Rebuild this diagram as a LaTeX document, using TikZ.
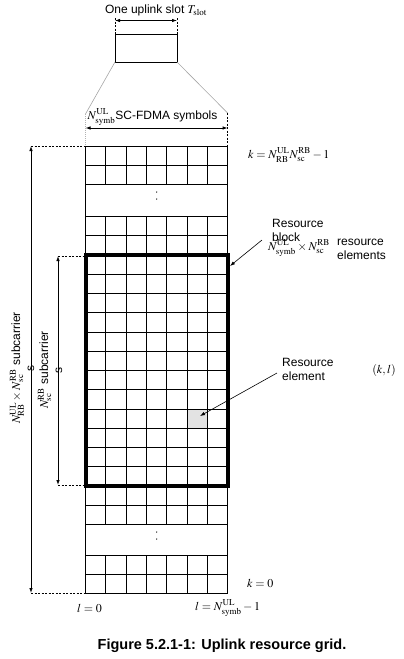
\documentclass[tikz,border=0pt]{standalone}
\usepackage{mathptmx}
\usepackage[no-math]{fontspec}
\setmainfont{Liberation Sans}
\usetikzlibrary{arrows.meta}
\begin{document}
\begin{tikzpicture}[x=1pt,y=-1pt,
  font=\fontsize{12}{14}\selectfont,
  gridline/.style={line width=0.8pt},
  thickbox/.style={line width=4pt},
  guide/.style={dash pattern=on 2pt off 1.5pt, line width=0.8pt},
  zoomline/.style={gray!70, line width=0.6pt},
  tip/.style={-{Latex[length=5pt,width=3.5pt]}, line width=0.8pt},
  dtip/.style={{Latex[length=5pt,width=3.5pt]}-{Latex[length=5pt,width=3.5pt]}, line width=0.8pt},
  lbl/.style={inner sep=0pt, anchor=west},
  rlbl/.style={inner sep=0pt, align=center, rotate=90}]
\useasboundingbox (0,0) rectangle (404,659);
\def\xa{85.5}
\def\w{20.3}
\def\xb{227.6}
% shaded resource element
\fill[gray!22] (\xa+5*\w,{255+8*19.25}) rectangle (\xa+6*\w,{255+9*19.25});
% grid sections
\foreach \ya/\yb/\n in {146/184.6/2, 216/255/2, 255/486/12, 486/524/2, 555/593/2} {
  \foreach \i in {0,...,\n}
    \draw[gridline] (\xa,{\ya+(\yb-\ya)*\i/\n}) -- (\xb,{\ya+(\yb-\ya)*\i/\n});
  \foreach \j in {0,...,7}
    \draw[gridline] ({\xa+\j*\w},\ya) -- ({\xa+\j*\w},\yb);
}
\draw[gridline] (\xa,146) rectangle (\xb,593);
% dots in gaps
\foreach \yy in {192,199,532,539} \fill (156.7,\yy) circle (0.7pt);
% resource block
\draw[thickbox] (\xa,255) rectangle (\xb,486);
% slot box
\coordinate (s1) at (115,34);
\coordinate (s2) at (177,62);
\draw[gridline] (s1) rectangle (s2);
\coordinate (sa) at (115,20.5);
\coordinate (sb) at (177,20.5);
\draw[guide] (115,18) -- (115,34);
\draw[guide] (177,18) -- (177,34);
\draw[dtip] (sa) -- (sb);
\node[inner sep=0pt] (title) at (156,10) {One uplink slot $T_{\mathrm{slot}}$};
% zoom lines
\coordinate (zl) at (\xa,114);
\coordinate (zr) at (\xb,113);
\draw[zoomline] (115,62) -- (zl);
\draw[zoomline] (177,62) -- (zr);
\draw[gray!60, dash pattern=on 1pt off 1pt, line width=0.8pt] (zl) -- (\xa,146);
\draw[guide] (zr) -- (\xb,146);
\coordinate (ya) at (\xa,128);
\coordinate (yb) at (\xb,128);
\draw[dtip] (ya) -- (yb);
\node[inner sep=0pt] (symb) at (152.5,117) {$N^{\mathrm{UL}}_{\mathrm{symb}}$SC-FDMA symbols};
% left outer arrow
\coordinate (o1) at (31,146);
\coordinate (o2) at (31,593);
\draw[guide] (o1) -- (\xa,146);
\draw[guide] (o2) -- (\xa,593);
\draw[dtip] (o1) -- (o2);
% inner arrow
\coordinate (i1) at (58,256);
\coordinate (i2) at (58,485);
\draw[guide] (i1) -- (83,256);
\draw[guide] (i2) -- (83,485);
\draw[dtip] (i1) -- (i2);
% rotated labels
\node[rlbl] (outerlbl) at (22,368) {$N^{\mathrm{UL}}_{\mathrm{RB}}\times N^{\mathrm{RB}}_{\mathrm{sc}}$ subcarrier\\s};
\node[rlbl] (innerlbl) at (50,370) {$N^{\mathrm{RB}}_{\mathrm{sc}}$ subcarrier\\s};
% right labels
\node[lbl] (ktop) at (248,155) {$k=N^{\mathrm{UL}}_{\mathrm{RB}}N^{\mathrm{RB}}_{\mathrm{sc}}-1$};
\node[lbl, align=left] (rb) at (272,230) {Resource\\block};
\node[lbl] (rbsize) at (268,248) {$N^{\mathrm{UL}}_{\mathrm{symb}}\times N^{\mathrm{RB}}_{\mathrm{sc}}$};
\node[lbl, align=left] (rbel) at (337,249) {resource\\elements};
\coordinate (rbfrom) at (262,240);
\coordinate (rbto) at (230,266);
\draw[tip, line width=0.6pt] (rbfrom) -- (rbto);
\node[lbl, align=left] (re) at (282,369) {Resource\\element};
\coordinate (refrom) at (277,373);
\coordinate (reto) at (200,416);
\draw[tip, line width=0.6pt] (refrom) -- (reto);
\node[inner sep=0pt] (kl) at (384,370) {$(k,l)$};
\node[lbl] (k0) at (247,583) {$k=0$};
\node[lbl] (l0) at (77,608) {$l=0$};
\node[lbl] (lmax) at (195,608) {$l=N^{\mathrm{UL}}_{\mathrm{symb}}-1$};
% caption
\node[inner sep=0pt, font=\fontsize{14.5}{17}\selectfont\bfseries] (cap) at (222,646) {Figure 5.2.1-1: Uplink resource grid.};
\end{tikzpicture}
\end{document}
